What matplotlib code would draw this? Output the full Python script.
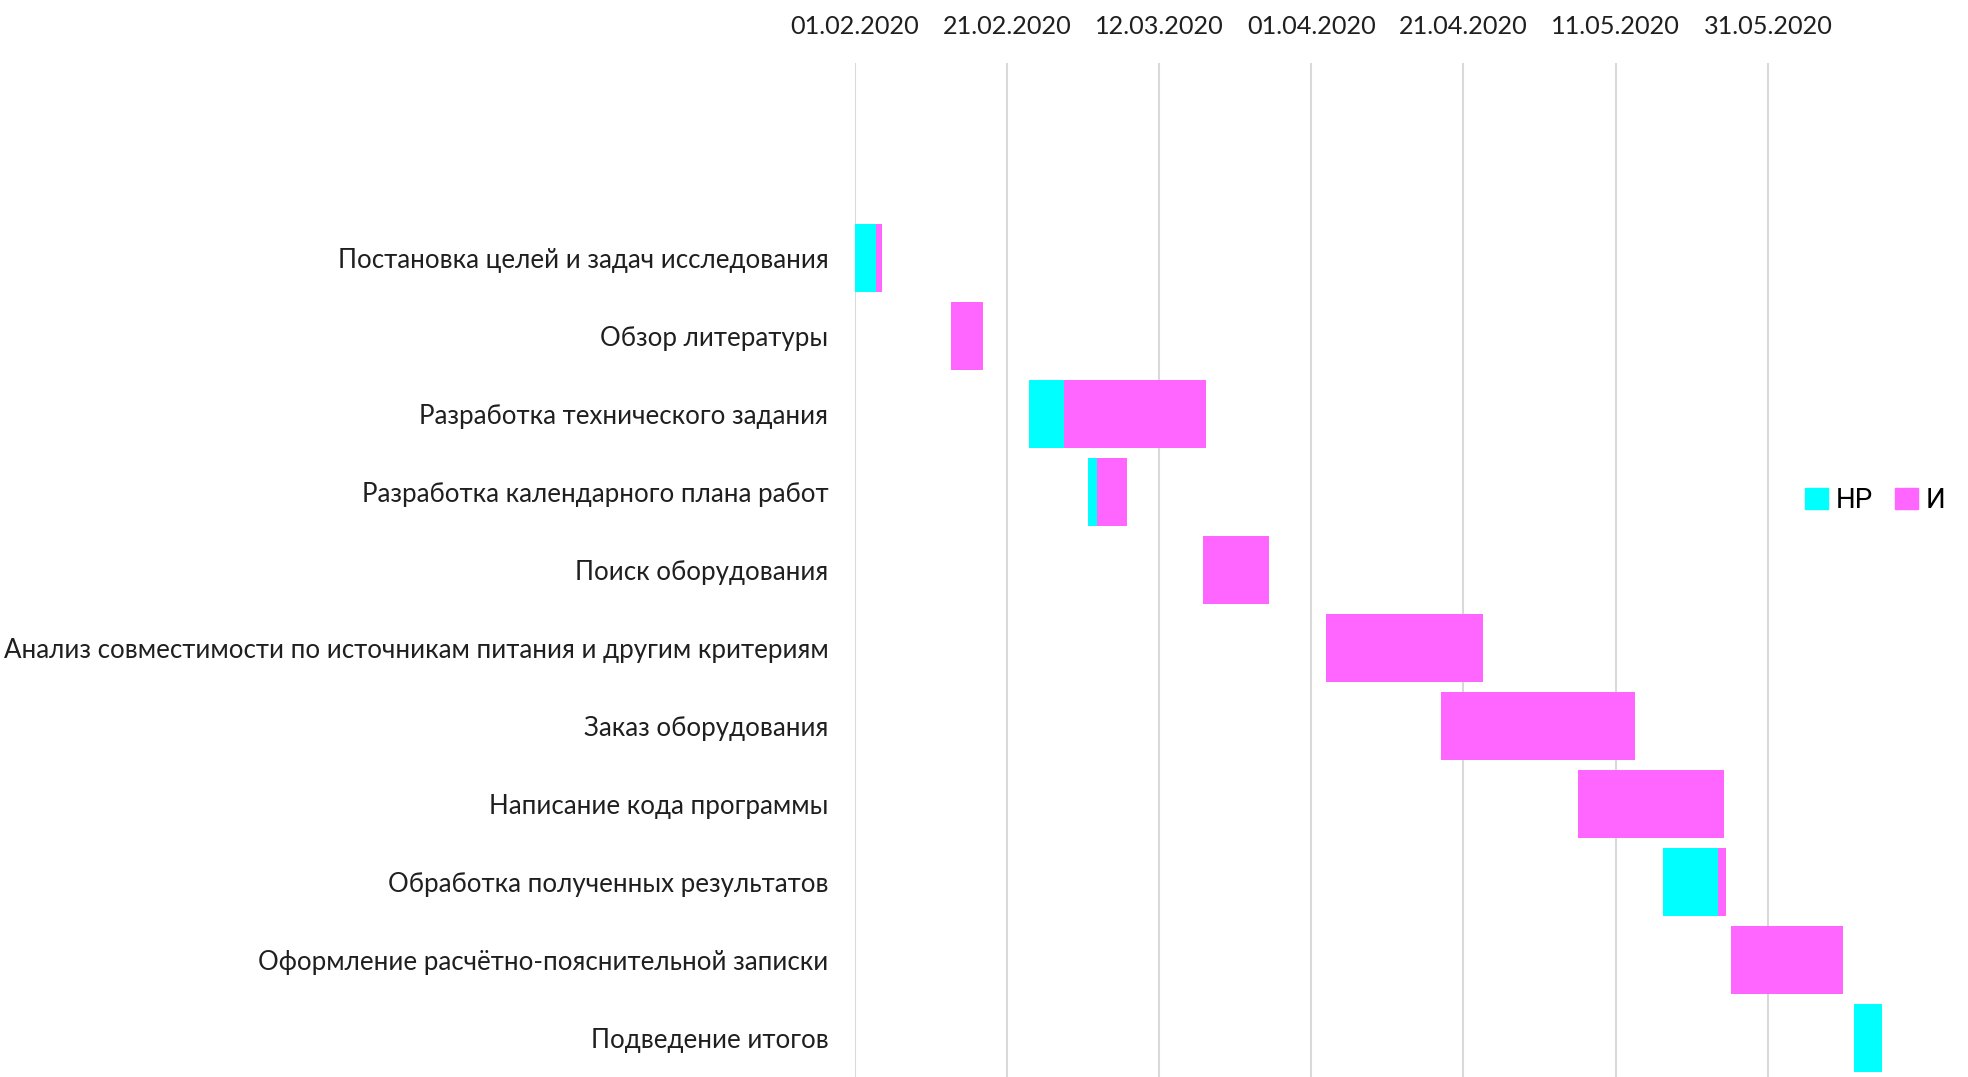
import pandas as pd
import matplotlib.pyplot as plt
from matplotlib.patches import Patch

# --------------------------------------------------
# data (days counted from 01.02.2020)
# --------------------------------------------------
tasks = [
    "Постановка целей и задач исследования",
    "Обзор литературы",
    "Разработка технического задания",
    "Разработка календарного плана работ",
    "Поиск оборудования",
    "Анализ совместимости по источникам питания и другим критериям",
    "Заказ оборудования",
    "Написание кода программы",
    "Обработка полученных результатов",
    "Оформление расчётно-пояснительной записки",
    "Подведение итогов",
]
start_days = [0, 12.6, 22.9, 30.7, 45.8, 62.0, 77.0, 95.0, 106.2, 115.2, 131.3]
nr_days = [2.8, 0, 4.6, 1.2, 0, 0, 0, 0, 7.2, 0, 3.7]
i_days = [0.8, 4.3, 18.7, 3.9, 8.7, 20.6, 25.6, 19.3, 1.1, 14.7, 0]

tick_dates = ["01.02.2020", "21.02.2020", "12.03.2020", "01.04.2020",
              "21.04.2020", "11.05.2020", "31.05.2020"]
origin = pd.Timestamp("2020-02-01")

colors = {"НР": "#00FFFF", "И": "#FF66FF"}
label_font = ["Lato", "DejaVu Sans"]

# --------------------------------------------------
# plot
# --------------------------------------------------
fig = plt.figure(figsize=(19.68, 10.77), dpi=100)
ax = fig.add_axes([0.4343, 0.0, 0.522, 0.9415])

ypos = list(range(len(tasks)))
nr_left = start_days
i_left = [s + n for s, n in zip(start_days, nr_days)]

ax.barh(ypos, nr_days, left=nr_left, height=0.86, color=colors["НР"], zorder=3)
ax.barh(ypos, i_days, left=i_left, height=0.86, color=colors["И"], zorder=3)

tick_pos = [(pd.to_datetime(d, format="%d.%m.%Y") - origin).days for d in tick_dates]
ax.set_xticks(tick_pos)
ax.set_xticklabels(tick_dates, fontsize=18.2, family=label_font, color="#1f1f1f")
ax.xaxis.tick_top()
ax.tick_params(axis="x", length=0, pad=18)

ax.set_yticks(ypos)
ax.set_yticklabels(tasks, fontsize=18.6, family=label_font, color="#1f1f1f")
ax.tick_params(axis="y", length=0, pad=19)

ax.set_xlim(0, 135)
ax.set_ylim(10.5, -2.5)
ax.grid(axis="x", color="#D9D9D9", linewidth=1.5, zorder=0)
for side in ["top", "right", "bottom", "left"]:
    ax.spines[side].set_visible(False)

handles = [Patch(color=colors[k], label=k) for k in ["НР", "И"]]
fig.legend(handles=handles, loc="center left", bbox_to_anchor=(0.9075, 0.535),
           ncol=2, frameon=False, handlelength=0.8, handleheight=0.8,
           handletextpad=0.3, columnspacing=0.8, borderpad=0.2,
           prop={"family": ["Roboto", "DejaVu Sans"], "size": 20})

fig.savefig("out.png", dpi=100)
